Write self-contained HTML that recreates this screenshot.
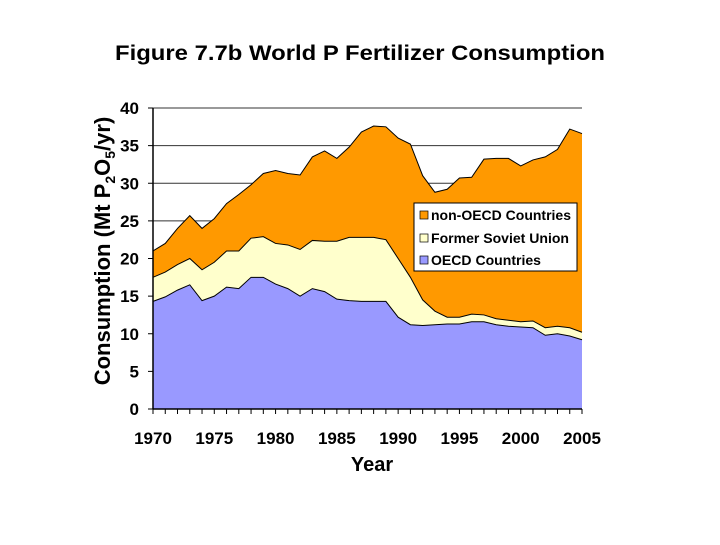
<!DOCTYPE html>
<html><head><meta charset="utf-8"><style>
body{margin:0;background:#fff;}
svg text{font-family:"Liberation Sans",Arial,sans-serif;font-weight:bold;}
</style></head><body>
<svg width="720" height="540" viewBox="0 0 720 540" xmlns="http://www.w3.org/2000/svg">
<text x="360" y="60" text-anchor="middle" font-size="21" textLength="490" lengthAdjust="spacingAndGlyphs" fill="#000">Figure 7.7b World P Fertilizer Consumption</text>
<g id="grid"></g>
<g id="areas"></g>
<g id="axes"></g>
<text transform="translate(110,251) rotate(-90)" text-anchor="middle" font-size="22" fill="#000">Consumption (Mt P<tspan font-size="14" dy="5">2</tspan><tspan dy="-5">O</tspan><tspan font-size="14" dy="5">5</tspan><tspan dy="-5">/yr)</tspan></text>
<text x="372" y="471" text-anchor="middle" font-size="20" fill="#000">Year</text>
<g>
<rect x="414" y="203" width="163" height="68" fill="#fff" stroke="#000" stroke-width="1"/>
<g><rect x="420" y="211" width="8" height="8" fill="#ff9900" stroke="#000" stroke-width="0.7"/><text x="431" y="220" font-size="14" textLength="140" lengthAdjust="spacingAndGlyphs">non-OECD Countries</text></g>
<g><rect x="420" y="234" width="8" height="8" fill="#ffffcc" stroke="#000" stroke-width="0.7"/><text x="431" y="243" font-size="14" textLength="138" lengthAdjust="spacingAndGlyphs">Former Soviet Union</text></g>
<g><rect x="420" y="256" width="8" height="8" fill="#9999ff" stroke="#000" stroke-width="0.7"/><text x="431" y="265" font-size="14" textLength="110" lengthAdjust="spacingAndGlyphs">OECD Countries</text></g>
</g>
</svg>
<script>
const years=[1970,1971,1972,1973,1974,1975,1976,1977,1978,1979,1980,1981,1982,1983,1984,1985,1986,1987,1988,1989,1990,1991,1992,1993,1994,1995,1996,1997,1998,1999,2000,2001,2002,2003,2004,2005];
const oecd=[14.3,14.9,15.8,16.5,14.4,15,16.2,16,17.5,17.5,16.6,16,15,16,15.6,14.6,14.4,14.3,14.3,14.3,12.2,11.2,11.1,11.2,11.3,11.3,11.6,11.6,11.2,11,10.9,10.8,9.8,10,9.7,9.2];
const fsu=[3.2,3.3,3.4,3.5,4.1,4.5,4.8,5,5.2,5.4,5.4,5.8,6.2,6.4,6.7,7.7,8.4,8.5,8.5,8.2,7.8,6.3,3.4,1.8,0.9,0.9,1,0.9,0.8,0.8,0.7,0.9,1,1,1.1,1];
const nonOecd=[3.5,3.8,4.8,5.7,5.5,5.8,6.3,7.5,7.1,8.4,9.7,9.5,9.9,11.1,12,11,12,14,14.8,15,16,17.7,16.5,15.8,17,18.5,18.2,20.7,21.3,21.5,20.7,21.4,22.7,23.5,26.4,26.4];
const yTicks=[0,5,10,15,20,25,30,35,40];
const xLabels=[1970,1975,1980,1985,1990,1995,2000,2005];
const NS="http://www.w3.org/2000/svg";
const X0=153,X1=582,Y0=409,Y1=108;
const xs=y=>X0+(y-1970)/(2005-1970)*(X1-X0);
const ys=v=>Y0-v/40*(Y0-Y1);
function mk(t,a,p){const e=document.createElementNS(NS,t);for(const k in a)e.setAttribute(k,a[k]);p.appendChild(e);return e;}
const grid=document.getElementById('grid'),areas=document.getElementById('areas'),axes=document.getElementById('axes');
yTicks.forEach(v=>{if(v>0){const l=mk('line',{x1:X0,x2:X1,y1:ys(v),y2:ys(v),stroke:'#333','stroke-width':1},grid);

}
const t=mk('line',{x1:X0-5,x2:X0,y1:ys(v),y2:ys(v),stroke:'#000'},axes);
const tx=mk('text',{x:139,y:ys(v)+6,'text-anchor':'end','font-size':17},axes);tx.textContent=v;

});
const c1=oecd.map(v=>v),c2=oecd.map((v,i)=>v+fsu[i]),c3=c2.map((v,i)=>v+nonOecd[i]);
function band(lo,hi,fill,name){let d='M'+years.map((y,i)=>xs(y)+','+ys(hi[i])).join('L');
for(let i=years.length-1;i>=0;i--)d+='L'+xs(years[i])+','+ys(lo?lo[i]:0);d+='Z';
const p=mk('path',{d:d,fill:fill,stroke:'none'},areas);


mk('path',{d:'M'+years.map((y,i)=>xs(y)+','+ys(hi[i])).join('L'),fill:'none',stroke:'#000','stroke-width':1},areas);}
band(c2,c3,'#ff9900','area-non-oecd');
band(c1,c2,'#ffffcc','area-fsu');
band(null,c1,'#9999ff','area-oecd');
mk('line',{x1:X0,x2:X0,y1:Y1,y2:Y0,stroke:'#000','stroke-width':1.5},axes);
mk('line',{x1:X0,x2:X1,y1:Y0,y2:Y0,stroke:'#000','stroke-width':1.5},axes);
years.forEach(y=>mk('line',{x1:xs(y),x2:xs(y),y1:Y0,y2:Y0+5,stroke:'#000'},axes));
xLabels.forEach(y=>{const t=mk('text',{x:xs(y),y:444,'text-anchor':'middle','font-size':17},axes);t.textContent=y;

});
</script>
</body></html>
